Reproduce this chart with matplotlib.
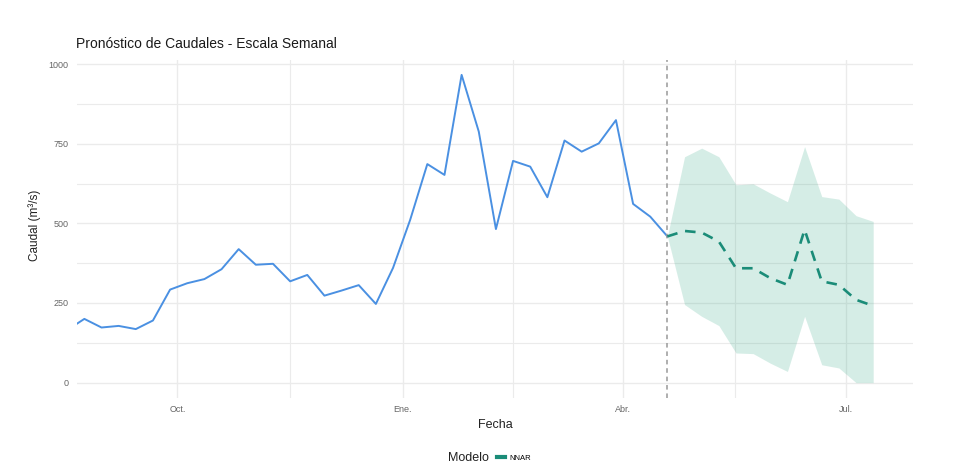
import matplotlib
matplotlib.use('Agg')
import matplotlib.pyplot as plt
import matplotlib.dates as mdates
from matplotlib.lines import Line2D
import numpy as np
import pandas as pd

plt.rcParams['font.family'] = ['Liberation Sans', 'DejaVu Sans']

# serie observada (semanal)
fecha_inicio = "2022-08-21"
fecha_semana1 = "2022-08-24"
caudal_obs = [185, 200, 173, 178, 168, 195, 292, 312, 325, 356, 419, 370,
              373, 318, 338, 273, 289, 306, 247, 360, 511, 686, 652, 966,
              788, 482, 696, 678, 582, 760, 725, 751, 824, 561, 521, 459]

# pronostico NNAR (12 semanas)
caudal_pron = [476, 471, 443, 359, 359, 328, 307, 480, 318, 307, 260, 241]
lim_sup = [709, 736, 709, 621, 624, 595, 568, 741, 584, 576, 524, 506]
lim_inf = [245, 208, 179, 93, 91, 61, 35, 208, 56, 46, 0, 0]

ticks_fecha = ["2022-10-01", "2023-01-01", "2023-04-01", "2023-07-01"]
ticks_label = ["Oct.", "Ene.", "Abr.", "Jul."]
ticks_caudal = [0, 250, 500, 750, 1000]

fechas_obs = pd.DatetimeIndex([pd.Timestamp(fecha_inicio)]).append(
    pd.date_range(fecha_semana1, periods=len(caudal_obs) - 1, freq="7D"))
fechas_pron = pd.date_range(fechas_obs[-1] + pd.Timedelta(days=7),
                            periods=len(caudal_pron), freq="7D")

# el pronostico arranca desde el ultimo valor observado
x_pron = fechas_obs[-1:].append(fechas_pron)
y_pron = [caudal_obs[-1]] + caudal_pron
y_sup = [caudal_obs[-1]] + lim_sup
y_inf = [caudal_obs[-1]] + lim_inf

azul = '#4A90E2'
verde = '#1A8C78'
grid_col = '#EBEBEB'

W, H = 954, 468
fig = plt.figure(figsize=(W / 100, H / 100), dpi=100)
ax = fig.add_axes([77 / W, 1 - 398 / H, (913 - 77) / W, (398 - 59.5) / H])

ax.fill_between(x_pron, y_inf, y_sup, color='#1B9E77', alpha=0.18, lw=0, zorder=2)
ax.plot(fechas_obs, caudal_obs, color=azul, lw=1.4, zorder=3)
ax.plot(x_pron, y_pron, color=verde, lw=1.9, ls=(0, (4, 3)), zorder=4)
ax.axvline(fechas_obs[-1], color='#999999', lw=1.1, ls=(0, (3, 2.5)), zorder=3)

# limites al estilo ggplot
ymax = max(max(caudal_obs), max(lim_sup))
ymin = min(min(caudal_obs), min(lim_inf))
pad = 0.05 * (ymax - ymin)
ax.set_ylim(ymin - pad, ymax + pad)
x0 = mdates.date2num(fechas_obs[0])
x1 = mdates.date2num(fechas_pron[-1])
ax.set_xlim(x0, x1 + 0.05 * (x1 - x0))

tick_nums = [mdates.date2num(pd.Timestamp(t)) for t in ticks_fecha]
ax.set_xticks(tick_nums)
ax.set_xticklabels(ticks_label)
ax.set_xticks([(a + b) / 2 for a, b in zip(tick_nums[:-1], tick_nums[1:])], minor=True)
ax.set_yticks(ticks_caudal)
ax.set_yticks([(a + b) / 2 for a, b in zip(ticks_caudal[:-1], ticks_caudal[1:])], minor=True)

ax.grid(True, which='major', color=grid_col, lw=1.0, zorder=0)
ax.grid(True, which='minor', color=grid_col, lw=0.8, zorder=0)
ax.set_axisbelow(True)
for s in ax.spines.values():
    s.set_visible(False)
ax.tick_params(which='both', length=0)
ax.tick_params(axis='y', pad=6, labelsize=6.5, labelcolor='#666666')
ax.tick_params(axis='x', pad=5, labelsize=6.5, labelcolor='#666666')

fig.text(76 / W, 1 - 44 / H, "Pronóstico de Caudales - Escala Semanal",
         fontsize=10, color='#1A1A1A', va='center', ha='left')
fig.text(35 / W, 1 - 225 / H, "Caudal (m³/s)", rotation=90, fontsize=8.5,
         color='#222222', va='center', ha='center')
fig.text(495 / W, 1 - 425 / H, "Fecha", fontsize=9, color='#222222',
         va='center', ha='center')

fig.text(489 / W, 1 - 458 / H, "Modelo", fontsize=9, color='#222222',
         va='center', ha='right')
fig.legend(handles=[Line2D([], [], color=verde, lw=3)], labels=["NNAR"],
           loc='center left', bbox_to_anchor=(497 / W, 1 - 458 / H),
           frameon=False, fontsize=5.5, handlelength=1.1, handletextpad=0.5,
           borderpad=0, borderaxespad=0)

fig.savefig('out.png', dpi=100, facecolor='white')
